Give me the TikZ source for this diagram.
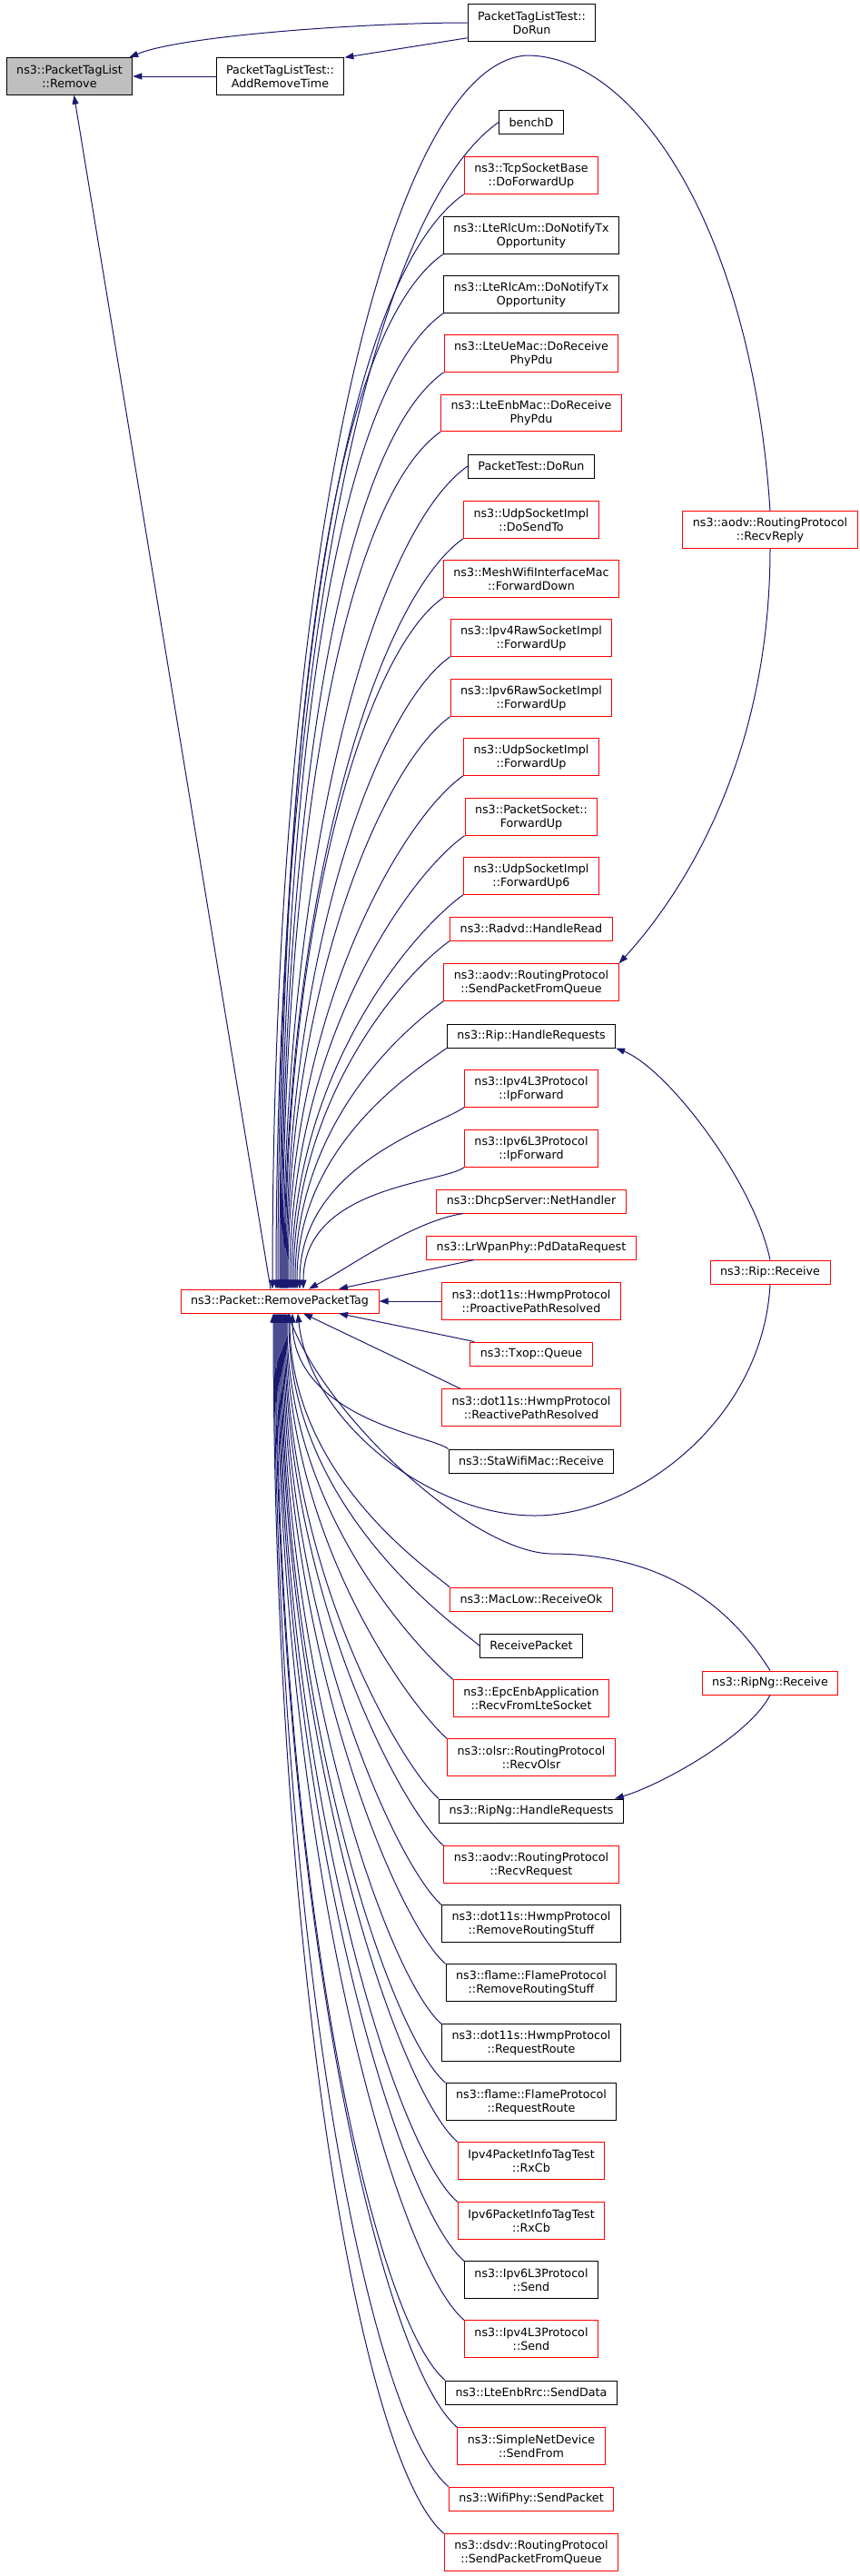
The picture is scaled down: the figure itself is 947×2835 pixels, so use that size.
\documentclass[tikz,border=0pt]{standalone}
\usepackage{fontspec}
\setmainfont{DejaVu Sans}
\usetikzlibrary{arrows.meta}
\definecolor{edgeblue}{HTML}{191970}
\definecolor{fillgray}{HTML}{BFBFBF}
\begin{document}
\begin{tikzpicture}[x=1pt,y=-1pt]
            \tikzstyle{fn}=[draw=black,fill=white,line width=1pt,align=center,inner xsep=11pt,inner ysep=4pt,minimum height=26pt,font=\fontsize{12.7pt}{15pt}\selectfont]
            \tikzstyle{fnred}=[fn,draw=red]
            \tikzstyle{tall}=[minimum height=40.5pt]
            \tikzstyle{call}=[draw=edgeblue,line width=1pt,-{Triangle[length=10pt,width=7pt]}]
            \useasboundingbox (0,0) rectangle (947,2835);
            \fill[white] (0,0) rectangle (947,2835);
            \node[fn,tall,fill=fillgray] (remove) at (76.5,84) {ns3::PacketTagList\\::Remove};
            \node[fn,tall] (addremove) at (308.5,84) {PacketTagListTest::\\AddRemoveTime};
            \node[fn,tall] (dorun) at (585.5,25) {PacketTagListTest::\\DoRun};
            \node[fnred] (rpt) at (308,1432) {ns3::Packet::RemovePacketTag};
            \node[fnred,tall] (recvreply) at (848,583) {ns3::aodv::RoutingProtocol\\::RecvReply};
            \node[fnred] (ripreceive) at (848,1400) {ns3::Rip::Receive};
            \node[fnred] (ripngreceive) at (848,1852) {ns3::RipNg::Receive};
            \node[fn] (benchd) at (585,134.5) {benchD};
            \node[fnred,tall] (tcpfwd) at (585,193) {ns3::TcpSocketBase\\::DoForwardUp};
            \node[fn,tall] (rlcum) at (585,259) {ns3::LteRlcUm::DoNotifyTx\\Opportunity};
            \node[fn,tall] (rlcam) at (585,324) {ns3::LteRlcAm::DoNotifyTx\\Opportunity};
            \node[fnred,tall] (uemac) at (585,389) {ns3::LteUeMac::DoReceive\\PhyPdu};
            \node[fnred,tall] (enbmac) at (585,454.5) {ns3::LteEnbMac::DoReceive\\PhyPdu};
            \node[fn] (pkttest) at (585,513) {PacketTest::DoRun};
            \node[fnred,tall] (udpsendto) at (585,572) {ns3::UdpSocketImpl\\::DoSendTo};
            \node[fnred,tall] (meshfwd) at (585,637) {ns3::MeshWifiInterfaceMac\\::ForwardDown};
            \node[fnred,tall] (raw4fwd) at (585,702) {ns3::Ipv4RawSocketImpl\\::ForwardUp};
            \node[fnred,tall] (raw6fwd) at (585,768) {ns3::Ipv6RawSocketImpl\\::ForwardUp};
            \node[fnred,tall] (udpfwd) at (585,833) {ns3::UdpSocketImpl\\::ForwardUp};
            \node[fnred,tall] (pktsockfwd) at (585,899) {ns3::PacketSocket::\\ForwardUp};
            \node[fnred,tall] (udpfwd6) at (585,964) {ns3::UdpSocketImpl\\::ForwardUp6};
            \node[fnred] (radvd) at (585,1022) {ns3::Radvd::HandleRead};
            \node[fnred,tall] (aodvsend) at (585,1081) {ns3::aodv::RoutingProtocol\\::SendPacketFromQueue};
            \node[fn] (riphandle) at (585,1140) {ns3::Rip::HandleRequests};
            \node[fnred,tall] (ip4fwd) at (585,1198) {ns3::Ipv4L3Protocol\\::IpForward};
            \node[fnred,tall] (ip6fwd) at (585,1264) {ns3::Ipv6L3Protocol\\::IpForward};
            \node[fnred] (dhcp) at (585,1322) {ns3::DhcpServer::NetHandler};
            \node[fnred] (lrwpan) at (585,1373) {ns3::LrWpanPhy::PdDataRequest};
            \node[fnred,tall] (proactive) at (585,1432) {ns3::dot11s::HwmpProtocol\\::ProactivePathResolved};
            \node[fnred] (txop) at (585,1490) {ns3::Txop::Queue};
            \node[fnred,tall] (reactive) at (585,1549) {ns3::dot11s::HwmpProtocol\\::ReactivePathResolved};
            \node[fn] (stawifi) at (585,1608) {ns3::StaWifiMac::Receive};
            \node[fnred] (maclow) at (585,1760) {ns3::MacLow::ReceiveOk};
            \node[fn] (rxpacket) at (585,1811) {ReceivePacket};
            \node[fnred,tall] (epcenb) at (585,1869) {ns3::EpcEnbApplication\\::RecvFromLteSocket};
            \node[fnred,tall] (olsr) at (585,1934) {ns3::olsr::RoutingProtocol\\::RecvOlsr};
            \node[fn] (ripnghandle) at (585,1993) {ns3::RipNg::HandleRequests};
            \node[fnred,tall] (aodvreq) at (585,2052) {ns3::aodv::RoutingProtocol\\::RecvRequest};
            \node[fn,tall] (hwmpremove) at (585,2117) {ns3::dot11s::HwmpProtocol\\::RemoveRoutingStuff};
            \node[fn,tall] (flameremove) at (585,2182) {ns3::flame::FlameProtocol\\::RemoveRoutingStuff};
            \node[fn,tall] (hwmproute) at (585,2248) {ns3::dot11s::HwmpProtocol\\::RequestRoute};
            \node[fn,tall] (flameroute) at (585,2313) {ns3::flame::FlameProtocol\\::RequestRoute};
            \node[fnred,tall] (info4rx) at (585,2378) {Ipv4PacketInfoTagTest\\::RxCb};
            \node[fnred,tall] (info6rx) at (585,2444) {Ipv6PacketInfoTagTest\\::RxCb};
            \node[fn,tall] (ip6send) at (585,2509) {ns3::Ipv6L3Protocol\\::Send};
            \node[fnred,tall] (ip4send) at (585,2574) {ns3::Ipv4L3Protocol\\::Send};
            \node[fn] (rrcsend) at (585,2633) {ns3::LteEnbRrc::SendData};
            \node[fnred,tall] (simplesend) at (585,2692) {ns3::SimpleNetDevice\\::SendFrom};
            \node[fnred] (wifisend) at (585,2750) {ns3::WifiPhy::SendPacket};
            \node[fnred,tall] (dsdvsend) at (585,2809) {ns3::dsdv::RoutingProtocol\\::SendPacketFromQueue};
            \coordinate (replytop) at (580,61);
            \coordinate (ripbottom) at (589,1668);
            \coordinate (ripngtop) at (607,1710);
            \draw[call] (dorun.west) .. controls +(-113,0) and +(57,-24) .. ([xshift=-4pt]remove.north east);
            \draw[call] ([yshift=4pt]dorun.south west) -- (addremove.north east);
            \draw[call] (addremove.west) -- (remove.east);
            \draw[call] ([xshift=-10pt]rpt.north) -- ([xshift=5pt]remove.south);
            \draw[call] (recvreply.north) .. controls +(-20,-310) and +(120,0) .. (replytop) .. controls +(-150,9) and +(0,-819) .. ([xshift=-8pt]rpt.north);
            \draw[call] (recvreply.south) .. controls +(0,248) and +(56,-61) .. (aodvsend.north east);
            \draw[call] (ripreceive.north) .. controls +(-18,-87) and +(56,22) .. (riphandle.south east);
            \draw[call] (ripreceive.south) .. controls +(-8,150) and +(110,0) .. (ripbottom) .. controls +(-119,0) and +(12,115) .. ([xshift=20pt]rpt.south);
            \draw[call] (ripngreceive.south) .. controls +(-23,45) and +(51,-15) .. ([xshift=-10pt]ripnghandle.north east);
            \draw[call] (ripngreceive.north) .. controls +(-68,-109) and +(73,0) .. (ripngtop) .. controls +(-87,-2) and +(43,115) .. ([xshift=9pt]rpt.south);
            \draw[call] (benchd.west) .. controls +(-147,103) and +(0,-666) .. ([xshift=-4pt]rpt.north);
            \draw[call] (tcpfwd.south west) .. controls +(-137,97) and +(0,-623) .. ([xshift=-2pt]rpt.north);
            \draw[call] (rlcum.south west) .. controls +(-129,91) and +(0,-587) .. (rpt.north);
            \draw[call] (rlcam.south west) .. controls +(-122,86) and +(0,-554) .. ([xshift=1pt]rpt.north);
            \draw[call] (uemac.south west) .. controls +(-115,81) and +(0,-522) .. ([xshift=2pt]rpt.north);
            \draw[call] (enbmac.south west) .. controls +(-108,76) and +(0,-489) .. ([xshift=3pt]rpt.north);
            \draw[call] (pkttest.west) .. controls +(-104,73) and +(0,-472) .. ([xshift=4pt]rpt.north);
            \draw[call] (udpsendto.south west) .. controls +(-95,67) and +(0,-433) .. ([xshift=5pt]rpt.north);
            \draw[call] (meshfwd.south west) .. controls +(-88,62) and +(0,-398) .. ([xshift=6pt]rpt.north);
            \draw[call] (raw4fwd.south west) .. controls +(-81,57) and +(0,-366) .. ([xshift=7pt]rpt.north);
            \draw[call] (raw6fwd.south west) .. controls +(-73,52) and +(0,-334) .. ([xshift=8pt]rpt.north);
            \draw[call] (udpfwd.south west) .. controls +(-67,47) and +(0,-304) .. ([xshift=9pt]rpt.north);
            \draw[call] (pktsockfwd.south west) .. controls +(-60,42) and +(0,-273) .. ([xshift=11pt]rpt.north);
            \draw[call] (udpfwd6.south west) .. controls +(-53,38) and +(0,-242) .. ([xshift=13pt]rpt.north);
            \draw[call] (radvd.south west) .. controls +(-47,33) and +(0,-214) .. ([xshift=15pt]rpt.north);
            \draw[call] (aodvsend.south west) .. controls +(-41,29) and +(0,-185) .. ([xshift=17pt]rpt.north);
            \draw[call] (riphandle.south west) .. controls +(-35,25) and +(0,-159) .. ([xshift=19pt]rpt.north);
            \draw[call] (ip4fwd.south west) .. controls +(-30,21) and +(0,-137) .. ([xshift=22pt]rpt.north);
            \draw[call] (ip6fwd.south west) .. controls +(-25,18) and +(0,-113) .. ([xshift=26pt]rpt.north);
            \draw[call] ([xshift=30pt]dhcp.south west) .. controls +(-55,8) and +(45,-24) .. ([xshift=32pt]rpt.north);
            \draw[call] ([xshift=53pt]lrwpan.south west) -- ([xshift=65pt]rpt.north);
            \draw[call] (proactive.west) -- (rpt.east);
            \draw[call] ([xshift=5pt]txop.north west) -- ([xshift=65pt]rpt.south);
            \draw[call] ([xshift=21pt]reactive.north west) -- ([xshift=26pt]rpt.south);
            \draw[call] (stawifi.north west) .. controls +(-16,-14) and +(0,116) .. ([xshift=14pt]rpt.south);
            \draw[call] (maclow.north west) .. controls +(-25,-21) and +(0,178) .. ([xshift=11pt]rpt.south);
            \draw[call] (rxpacket.west) .. controls +(-30,-25) and +(0,215) .. ([xshift=10pt]rpt.south);
            \draw[call] (epcenb.north west) .. controls +(-31,-27) and +(0,225) .. ([xshift=8pt]rpt.south);
            \draw[call] (olsr.north west) .. controls +(-35,-30) and +(0,255) .. ([xshift=7pt]rpt.south);
            \draw[call] (ripnghandle.north west) .. controls +(-39,-34) and +(0,286) .. ([xshift=6pt]rpt.south);
            \draw[call] (aodvreq.north west) .. controls +(-43,-37) and +(0,312) .. ([xshift=5pt]rpt.south);
            \draw[call] (hwmpremove.north west) .. controls +(-47,-41) and +(0,344) .. ([xshift=4pt]rpt.south);
            \draw[call] (flameremove.north west) .. controls +(-52,-44) and +(0,376) .. ([xshift=3pt]rpt.south);
            \draw[call] (hwmproute.north west) .. controls +(-56,-48) and +(0,408) .. ([xshift=2pt]rpt.south);
            \draw[call] (flameroute.north west) .. controls +(-61,-52) and +(0,441) .. ([xshift=1pt]rpt.south);
            \draw[call] (info4rx.north west) .. controls +(-65,-56) and +(0,475) .. (rpt.south);
            \draw[call] (info6rx.north west) .. controls +(-70,-60) and +(0,508) .. ([xshift=-1pt]rpt.south);
            \draw[call] (ip6send.north west) .. controls +(-74,-64) and +(0,542) .. ([xshift=-2pt]rpt.south);
            \draw[call] (ip4send.north west) .. controls +(-79,-68) and +(0,575) .. ([xshift=-3pt]rpt.south);
            \draw[call] (rrcsend.north west) .. controls +(-83,-72) and +(0,607) .. ([xshift=-4pt]rpt.south);
            \draw[call] (simplesend.north west) .. controls +(-87,-75) and +(0,634) .. ([xshift=-5pt]rpt.south);
            \draw[call] (wifisend.north west) .. controls +(-92,-78) and +(0,666) .. ([xshift=-6pt]rpt.south);
            \draw[call] (dsdvsend.north west) .. controls +(-95,-81) and +(0,691) .. ([xshift=-7pt]rpt.south);
        \end{tikzpicture}
\end{document}
